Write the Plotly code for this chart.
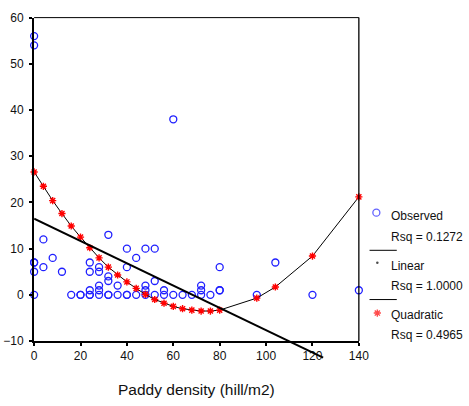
import plotly.graph_objects as go

# ---------------- data ----------------
obs_x = [0, 0, 0, 0, 0, 0,
         4, 4, 8, 12, 16, 20, 20,
         24, 24, 24, 24, 24,
         28, 28, 28, 28, 28,
         32, 32, 32, 32, 32,
         36, 36,
         40, 40, 40, 40,
         44, 44,
         48, 48, 48, 48,
         52, 52, 52,
         56, 56,
         60, 60, 64, 68,
         72, 72, 72, 76,
         80, 80, 80,
         96, 104, 120, 140]
obs_y = [56, 54, 7, 7, 5, 0,
         12, 6, 8, 5, 0, 0, 0,
         7, 5, 1, 0, 0,
         6, 5, 2, 1, 0,
         13, 4, 3, 0, 0,
         2, 0,
         10, 6, 0, 0,
         8, 0,
         10, 2, 1, 0,
         10, 3, 0,
         1, 0,
         38, 0, 0, 0,
         2, 1, 0, 0,
         6, 1, 1,
         0, 7, 0, 1]

quad_x = [0, 4, 8, 12, 16, 20, 24, 28, 32, 36, 40, 44, 48, 52, 56, 60, 64, 68,
          72, 76, 80, 96, 104, 120, 140]
quad_y = [26.6, 23.5, 20.4, 17.6, 14.9, 12.5, 10.2, 8.0, 6.0, 4.3, 2.8, 1.4, 0.1,
          -1.0, -1.8, -2.5, -3.0, -3.3, -3.5, -3.5, -3.3, -0.7, 1.7, 8.4, 21.2]

lin_x = [0, 124.6]
lin_y = [16.5, -13.6]

x_ticks = [0, 20, 40, 60, 80, 100, 120, 140]
y_ticks = [-10, 0, 10, 20, 30, 40, 50, 60]

legend_labels = ["Observed", "Rsq = 0.1272", "Linear", "Rsq = 1.0000",
                 "Quadratic", "Rsq = 0.4965"]
x_title = "Paddy density (hill/m2)"

# ---------------- layout geometry ----------------
W, H = 469, 406
PL, PR, PT, PB = 32, 366, 11, 346  # plot area in pixels
XR = [0, 140]
YR = [-10, 60]


def px(x):
    return x / W


def py(y):
    return 1 - y / H


FONT = "Liberation Sans, Arial, sans-serif"
BLUE = "#1f1fff"
RED = "#ff0000"

xd = [px(PL), px(PR)]
yd = [py(PB), py(PT)]

# extended y axis for the linear fit line (drawn past the x axis like the original)
ext_bottom = 0.0
ext_lo = YR[1] - (YR[1] - YR[0]) * (yd[1] - ext_bottom) / (yd[1] - yd[0])

fig = go.Figure()

fig.add_trace(go.Scatter(
    x=obs_x, y=obs_y, mode="markers", name="Observed",
    marker=dict(symbol="circle-open", size=7, color=BLUE, line=dict(width=1.3, color=BLUE)),
    cliponaxis=False, xaxis="x", yaxis="y", showlegend=False))

fig.add_trace(go.Scatter(
    x=quad_x, y=quad_y, mode="lines", name="Quadratic line",
    line=dict(color="black", width=1), xaxis="x", yaxis="y", showlegend=False))

fig.add_trace(go.Scatter(
    x=quad_x, y=quad_y, mode="markers", name="Quadratic",
    marker=dict(symbol="asterisk", size=6, color=RED, line=dict(width=1.4, color=RED)),
    cliponaxis=False, xaxis="x", yaxis="y", showlegend=False))

fig.add_trace(go.Scatter(
    x=lin_x, y=lin_y, mode="lines", name="Linear",
    line=dict(color="black", width=2), xaxis="x3", yaxis="y3", showlegend=False))

# legend markers on a pixel-space auxiliary axis
leg_mx = [384, 385, 385]
leg_my = [213, 265, 317]
fig.add_trace(go.Scatter(
    x=leg_mx, y=leg_my, mode="markers", xaxis="x2", yaxis="y2", showlegend=False,
    marker=dict(symbol=["circle-open", "circle", "asterisk"], size=[7, 2.5, 6],
                color=[BLUE, "black", RED],
                line=dict(width=[1.3, 0, 1.4], color=[BLUE, "black", RED])),
    cliponaxis=False, hoverinfo="skip"))

axis_common = dict(showgrid=False, zeroline=False, ticks="outside", ticklen=3,
                   tickwidth=2, tickcolor="black", showline=True, linecolor="black",
                   linewidth=2, tickfont=dict(family=FONT, size=12, color="#111"))

fig.update_layout(
    autosize=True,
    margin=dict(l=0, r=0, t=0, b=0, pad=0),
    paper_bgcolor="white", plot_bgcolor="rgba(0,0,0,0)",
    showlegend=False,
    xaxis=dict(domain=xd, range=XR, tickvals=x_ticks, anchor="y", **axis_common),
    yaxis=dict(domain=yd, range=YR, tickvals=y_ticks, anchor="x",
               ticklabelstandoff=3, **axis_common),
    xaxis2=dict(domain=[0, 1], range=[0, W], visible=False, anchor="y2"),
    yaxis2=dict(domain=[0, 1], range=[H, 0], visible=False, anchor="x2"),
    xaxis3=dict(domain=xd, range=XR, visible=False, anchor="y3"),
    yaxis3=dict(domain=[ext_bottom, yd[1]], range=[ext_lo, YR[1]], visible=False, anchor="x3"),
)

shapes = [
    dict(type="line", xref="x domain", yref="y domain", x0=0, x1=1, y0=1, y1=1,
         line=dict(color="black", width=1)),
    dict(type="line", xref="x domain", yref="y domain", x0=1, x1=1, y0=0, y1=1,
         line=dict(color="black", width=1.3)),
]
for ly in [252, 303]:
    shapes.append(dict(type="line", xref="paper", yref="paper",
                       x0=px(377), x1=px(405), y0=py(ly), y1=py(ly),
                       line=dict(color="black", width=1)))
fig.update_layout(shapes=shapes)

annotations = []
for label, ty in zip(legend_labels, [216, 238, 268, 289, 319, 340]):
    annotations.append(dict(text=label, x=px(397), y=py(ty), xref="paper", yref="paper",
                            xanchor="left", yanchor="middle", showarrow=False,
                            font=dict(family=FONT, size=12, color="#111")))
annotations.append(dict(text=x_title, x=px(199), y=py(396), xref="paper", yref="paper",
                        xanchor="center", yanchor="middle", showarrow=False,
                        font=dict(family=FONT, size=15.5, color="#111")))
fig.update_layout(annotations=annotations)

fig.write_html(
    "out.html",
    config={"displayModeBar": False, "responsive": True},
    default_width="100vw",
    default_height="100vh",
    post_script="document.body.style.margin='0';document.body.style.overflow='hidden';",
)
